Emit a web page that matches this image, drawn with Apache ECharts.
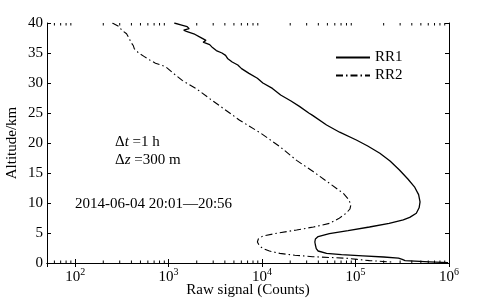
<!DOCTYPE html>
<html>
<head>
<meta charset="utf-8">
<script src="https://cdn.jsdelivr.net/npm/echarts@6/dist/echarts.min.js"></script>
<style>
  html, body { margin: 0; padding: 0; background: #fff; }
  #chart { width: 487px; height: 307px; }
</style>
</head>
<body>
<div id="chart"></div>
<script>
// RR1 profile (altitude km / raw counts)
var rr1Alt = [40, 39.7, 39.4, 39.05, 38.8, 38.6, 38.2, 37.9, 37.6, 37.4, 37.1, 36.8, 36.4, 35.9, 35.4, 35.0,
  34.6, 34.1, 33.5, 33.0, 32.4, 31.6, 30.8, 30.0, 29.1, 28.0, 27.0, 26.1, 25.0, 24.6, 23.0, 21.8, 20.5,
  19.5, 18.3, 17.0, 15.5, 14.0, 12.7, 11.4, 10.2, 9.2, 8.3, 7.6, 7.2, 6.6, 6.0, 5.4, 4.9, 4.4, 4.0, 3.5,
  3.0, 2.4, 2.0, 1.6, 1.4, 1.2, 1.0, 0.8, 0.6, 0.4, 0.2, 0.05];
var rr1Counts = [1150, 1350, 1580, 1660, 1450, 1550, 1860, 1950, 2190, 2090, 2510, 2340, 2750, 2950, 3240, 3720,
  4070, 4270, 4790, 5500, 6030, 7240, 8910, 10200, 12900, 15800, 20400, 25100, 31600, 34700, 49000, 67600, 102000,
  135000, 182000, 234000, 295000, 363000, 427000, 473000, 490000, 479000, 447000, 380000, 324000, 229000, 141000, 83200, 52500, 39800, 37200, 36700,
  37200, 38000, 39800, 49000, 70800, 120000, 200000, 288000, 316000, 339000, 617000, 977000];

// RR2 profile
var rr2Alt = [40, 39.4, 38.8, 38.2, 37.4, 36.8, 36.2, 35.7, 35.0, 34.4, 33.9, 33.3, 32.7, 31.5, 30.4, 29.0,
  27.4, 25.6, 23.8, 21.6, 19.4, 17.1, 15.2, 13.3, 11.6, 10.5, 9.65, 9.0, 8.3, 7.4, 6.6, 6.0, 5.5, 5.0,
  4.5, 4.0, 3.5, 2.9, 2.4, 2.0, 1.6, 1.3, 1.05, 0.8, 0.6, 0.4, 0.15];
var rr2Counts = [250, 295, 316, 355, 380, 395, 420, 430, 479, 550, 617, 724, 933, 1150, 1410, 2000,
  2750, 3980, 5750, 9770, 15500, 23400, 35500, 52500, 74100, 85100, 89100, 87100, 79400, 66100, 52500, 35500, 23400, 14800,
  10200, 9120, 8910, 9330, 10200, 12000, 15500, 22400, 34700, 79400, 105000, 141000, 251000];

var xMin = 50, xMax = 1000000;

function pairs(xs, ys) {
  var out = [];
  for (var i = 0; i < xs.length; i++) out.push([xs[i], ys[i]]);
  return out;
}

// minor ticks for the log axis (2..9 x 10^k)
var minorTicks = [];
for (var k = 1; k <= 5; k++) {
  for (var m = 2; m <= 9; m++) {
    var v = m * Math.pow(10, k);
    if (v > xMin && v < xMax) minorTicks.push([v, 0]);
  }
}

var font = "Liberation Serif";

function logLabel(val) {
  var e = Math.log10(val);
  var r = Math.round(e);
  if (Math.abs(e - r) > 1e-6) return "";
  return "{b|10}{s|" + r + "}";
}

var myChart = echarts.init(document.getElementById("chart"), null, { renderer: "canvas" });
var option = {
  animation: false,
  backgroundColor: "#fff",
  grid: { left: 47, right: 38, top: 23, bottom: 44, containLabel: false, outerBoundsMode: "none" },
  legend: {
    data: ["RR1", "RR2"],
    orient: "vertical",
    left: 330,
    top: 45,
    itemWidth: 34,
    itemHeight: 10,
    itemGap: 3,
    itemStyle: { opacity: 0 },
    textStyle: { fontFamily: font, fontSize: 15, color: "#000" }
  },
  xAxis: [
    {
      type: "log",
      logBase: 10,
      min: xMin,
      max: xMax,
      name: "Raw signal (Counts)",
      nameLocation: "middle",
      nameGap: 20,
      nameMoveOverlap: false,
      nameTextStyle: { fontFamily: font, fontSize: 15, color: "#000" },
      axisLine: { lineStyle: { color: "#000", width: 1 } },
      axisTick: { inside: true, length: 4, lineStyle: { color: "#000" } },
      splitLine: { show: false },
      axisLabel: {
        margin: 4,
        formatter: logLabel,
        rich: {
          b: { fontFamily: font, fontSize: 15, color: "#000", verticalAlign: "bottom" },
          s: { fontFamily: font, fontSize: 10, color: "#000", verticalAlign: "bottom", padding: [0, 0, 8, 0] }
        }
      }
    },
    {
      type: "log",
      logBase: 10,
      min: xMin,
      max: xMax,
      position: "top",
      axisLine: { lineStyle: { color: "#000", width: 1 } },
      axisTick: { inside: true, length: 4, lineStyle: { color: "#000" } },
      axisLabel: { show: false },
      splitLine: { show: false }
    }
  ],
  yAxis: [
    {
      type: "value",
      min: 0,
      max: 40,
      interval: 5,
      name: "Altitude/km",
      nameLocation: "middle",
      nameGap: 27,
      nameMoveOverlap: false,
      nameTextStyle: { fontFamily: font, fontSize: 15, color: "#000" },
      axisLine: { show: true, lineStyle: { color: "#000", width: 1 } },
      axisTick: { show: true, inside: true, length: 4, lineStyle: { color: "#000" } },
      splitLine: { show: false },
      axisLabel: { margin: 4, fontFamily: font, fontSize: 15, color: "#000" }
    },
    {
      type: "value",
      min: 0,
      max: 40,
      interval: 5,
      position: "right",
      axisLine: { show: true, lineStyle: { color: "#000", width: 1 } },
      axisTick: { show: true, inside: true, length: 4, lineStyle: { color: "#000" } },
      axisLabel: { show: false },
      splitLine: { show: false }
    }
  ],
  graphic: [
    {
      type: "text",
      left: 115,
      top: 135,
      style: {
        text: "{a|Δ}{i|t}{a| =1 h}",
        rich: {
          a: { fontFamily: font, fontSize: 15, fill: "#000" },
          i: { fontFamily: font, fontSize: 15, fontStyle: "italic", fill: "#000" }
        }
      }
    },
    {
      type: "text",
      left: 115,
      top: 153,
      style: {
        text: "{a|Δ}{i|z}{a| =300 m}",
        rich: {
          a: { fontFamily: font, fontSize: 15, fill: "#000" },
          i: { fontFamily: font, fontSize: 15, fontStyle: "italic", fill: "#000" }
        }
      }
    },
    {
      type: "text",
      left: 75,
      top: 197,
      style: { text: "2014-06-04 20:01—20:56", font: "15px " + font, fill: "#000" }
    }
  ],
  series: [
    {
      name: "RR1",
      type: "line",
      data: pairs(rr1Counts, rr1Alt),
      symbol: "none",
      showSymbol: false,
      lineStyle: { color: "#000", width: 1.3, type: "solid" },
      itemStyle: { color: "#000" }
    },
    {
      name: "RR2",
      type: "line",
      data: pairs(rr2Counts, rr2Alt),
      symbol: "none",
      showSymbol: false,
      lineStyle: { color: "#000", width: 1.1, type: [7, 3, 1.5, 3] },
      itemStyle: { color: "#000" }
    },
    {
      name: "minor",
      type: "custom",
      silent: true,
      clip: false,
      data: minorTicks,
      renderItem: function (params, api) {
        var b = api.coord([api.value(0), 0]);
        var t = api.coord([api.value(0), 40]);
        return {
          type: "group",
          children: [
            { type: "line", shape: { x1: b[0], y1: b[1], x2: b[0], y2: b[1] - 2.5 }, style: { stroke: "#000", lineWidth: 1 } },
            { type: "line", shape: { x1: t[0], y1: t[1], x2: t[0], y2: t[1] + 2.5 }, style: { stroke: "#000", lineWidth: 1 } }
          ]
        };
      }
    }
  ]
};
myChart.setOption(option);
</script>
</body>
</html>
